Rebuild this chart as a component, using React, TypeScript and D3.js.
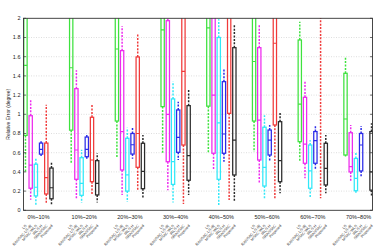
import React from "react";
import * as d3 from "d3";

const groups = ["0%~10%", "10%~20%", "20%~30%", "30%~40%", "40%~50%", "50%~60%", "60%~70%", "70%~80%"];
const methods = ["LS", "RANSAC-LS-IR", "MSAC-WLS", "IRLS-H", "SRANSAC", "Proposed"];
const yTicks = [0, 0.2, 0.4, 0.6, 0.8, 1, 1.2, 1.4, 1.6, 1.8, 2];

// [lower whisker, q1, median, q3, upper whisker]
const greenStats = [
  [0.40, 0.78, 1.51, 2.6, 3.2], [0.48, 0.835, 1.485, 2.5, 3.1], [0.54, 0.93, 1.68, 2.7, 3.3], [0.59, 1.08, 1.88, 2.8, 3.4],
  [0.59, 1.085, 1.90, 2.9, 3.5], [0.61, 0.93, 1.55, 2.6, 3.2], [0.51, 0.715, 1.107, 1.774, 1.965], [0.56, 0.576, 0.951, 1.427, 1.60],
];
const magentaStats = [
  [0.11, 0.23, 0.47, 0.985, 1.15], [0.125, 0.323, 0.628, 1.267, 1.46], [0.16, 0.42, 0.82, 1.663, 1.92], [0.21, 0.506, 1.0, 1.975, 2.4],
  [0.427, 0.594, 1.20, 2.3, 2.9], [0.28, 0.524, 0.94, 1.694, 1.93], [0.333, 0.49, 0.69, 1.177, 1.34], [0.30, 0.40, 0.454, 0.808, 0.889],
];
const cyanStats = [
  [0.045, 0.15, 0.24, 0.48, 0.55], [0.08, 0.156, 0.28, 0.548, 0.63], [0.09, 0.20, 0.37, 0.75, 0.86], [0.08, 0.27, 0.506, 1.16, 1.34],
  [0.04, 0.323, 0.91, 1.80, 1.99], [0.125, 0.253, 0.448, 0.865, 0.99], [0.135, 0.23, 0.41, 0.68, 0.73], [0.18, 0.204, 0.333, 0.54, 0.61],
];
const blueStats = [
  [0.565, 0.585, 0.635, 0.70, 0.72], [0.534, 0.558, 0.635, 0.763, 0.795], [0.537, 0.586, 0.683, 0.80, 0.865], [0.524, 0.604, 0.76, 1.045, 1.13],
  [0.506, 0.594, 0.795, 1.34, 1.47], [0.506, 0.576, 0.732, 0.836, 0.889], [0.42, 0.49, 0.725, 0.82, 0.88], [0.344, 0.41, 0.68, 0.80, 0.878],
];
const redStats = [
  [0.065, 0.17, 0.34, 0.70, 1.10], [0.16, 0.298, 0.524, 0.969, 1.097], [0.21, 0.448, 0.80, 1.597, 1.836], [0.066, 0.68, 1.448, 2.2, 2.8],
  [0.107, 1.01, 2.1, 2.8, 3.4], [0.125, 0.889, 1.74, 2.5, 3.1], [0.125, 2.05, 2.5, 3.0, 3.5], [2.2, 2.6, 3.0, 3.5, 4.0],
];
const blackStats = [
  [0.055, 0.12, 0.235, 0.44, 0.50], [0.08, 0.16, 0.28, 0.517, 0.594], [0.12, 0.225, 0.406, 0.698, 0.784], [0.16, 0.313, 0.569, 1.09, 1.253],
  [0.097, 0.368, 0.73, 1.694, 1.93], [0.177, 0.298, 0.517, 0.923, 1.027], [0.177, 0.264, 0.4375, 0.698, 0.784], [0.14, 0.21, 0.40, 0.82, 0.906],
];
const seriesColors = ["#3ee23e", "#ee2aee", "#30e8f8", "#2a2ae8", "#f03a3a", "#2a2a2a"];
const allStats = [greenStats, magentaStats, cyanStats, blueStats, redStats, blackStats];

const W = 374, H = 249;
const M = { left: 23.5, right: 372.5, top: 18.3, bottom: 210.3 };
const GROUP_STEP = 8.79;

export default function App() {
  const y = d3.scaleLinear().domain([0, 2]).range([M.bottom, M.top]);
  const x = d3.scaleLinear().domain([-0.38, 7 * GROUP_STEP + 5.19]).range([M.left, M.right]);
  const pos = (g: number, k: number) => x(g * GROUP_STEP + k);
  const bw = 3.3;
  const font = "Liberation Sans, Arial, sans-serif";

  return (
    <svg width={W} height={H} style={{ position: "absolute", left: 0, top: 0, background: "#fff" }}>
      <defs>
        <clipPath id="plotclip">
          <rect x={M.left} y={M.top} width={M.right - M.left} height={M.bottom - M.top} />
        </clipPath>
      </defs>
      {yTicks.slice(1, -1).map((t) => (
        <line key={"g" + t} x1={M.left} x2={M.right} y1={y(t)} y2={y(t)} stroke="#c8c8c8" strokeWidth={0.6} strokeDasharray="1,1.5" />
      ))}
      <g clipPath="url(#plotclip)">
        {allStats.map((stats, k) =>
          stats.map((s, g) => {
            const cx = pos(g, k);
            const [lw, q1, md, q3, uw] = s;
            const c = seriesColors[k];
            return (
              <g key={k + "-" + g}>
                <line x1={cx} x2={cx} y1={y(q3)} y2={y(uw)} stroke={c} strokeWidth={1.5} strokeDasharray="2,1.4" />
                <line x1={cx} x2={cx} y1={y(q1)} y2={y(lw)} stroke={c} strokeWidth={1.5} strokeDasharray="2,1.4" />
                <rect x={cx - bw / 2} y={y(q3)} width={bw} height={y(q1) - y(q3)} fill="none" stroke={c} strokeWidth={1.25} />
                <line x1={cx - bw / 2} x2={cx + bw / 2} y1={y(md)} y2={y(md)} stroke={c} strokeWidth={1.2} />
              </g>
            );
          })
        )}
      </g>
      <rect x={M.left} y={M.top} width={M.right - M.left} height={M.bottom - M.top} fill="none" stroke="#333" strokeWidth={0.9} />
      {yTicks.map((t) => (
        <g key={"t" + t}>
          <line x1={M.left} x2={M.left + 2.5} y1={y(t)} y2={y(t)} stroke="#333" strokeWidth={0.7} />
          <line x1={M.right - 2.5} x2={M.right} y1={y(t)} y2={y(t)} stroke="#333" strokeWidth={0.7} />
          <text x={M.left - 3} y={y(t) + 1.8} textAnchor="end" fontSize={5.5} fontFamily={font} fill="#222">
            {String(t)}
          </text>
        </g>
      ))}
      <text transform={`translate(10,${(M.top + M.bottom) / 2}) rotate(-90)`} textAnchor="middle" fontSize={5} fontFamily={font} fill="#222">
        Relative Error (degree)
      </text>
      {groups.map((gl, g) => (
        <text key={gl} x={(pos(g, 0) + pos(g, 5)) / 2} y={219} textAnchor="middle" fontSize={5.5} fontFamily={font} fill="#222">
          {gl}
        </text>
      ))}
      {groups.map((gl, g) =>
        methods.map((m, k) => (
          <text key={gl + m} transform={`translate(${pos(g, k) + 1.5},226) rotate(-48)`} textAnchor="end" fontSize={3.8} fontFamily={font} fill="#333">
            {m}
          </text>
        ))
      )}
    </svg>
  );
}
